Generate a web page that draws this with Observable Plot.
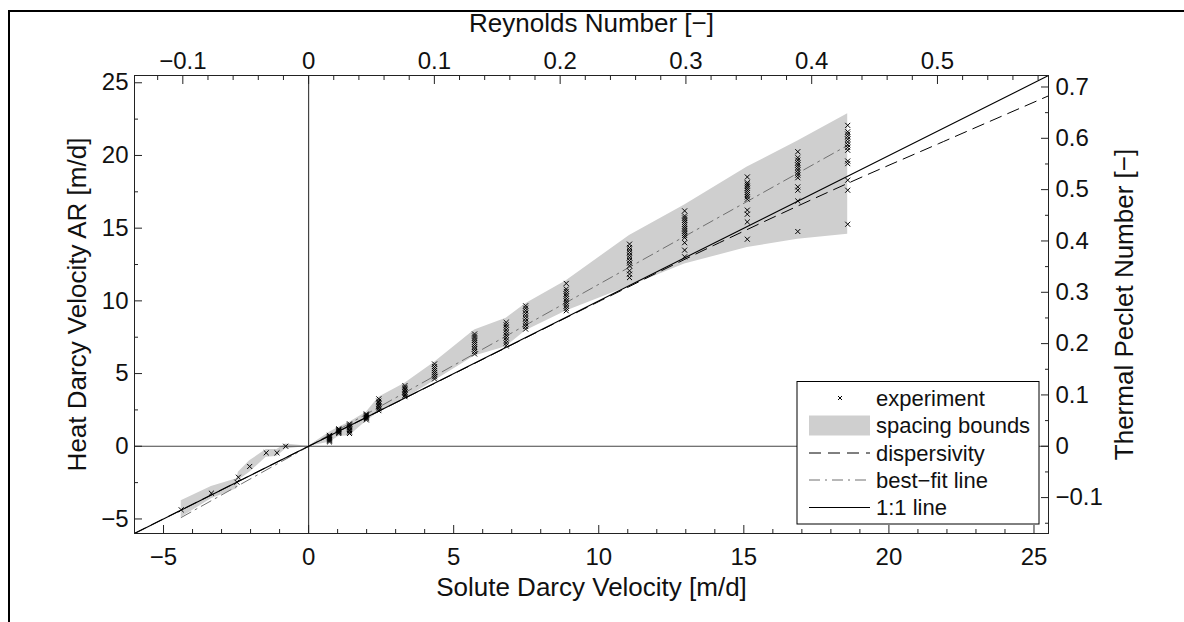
<!DOCTYPE html>
<html><head><meta charset="utf-8">
<script src="https://cdn.jsdelivr.net/npm/d3@7"></script>
<script src="https://cdn.jsdelivr.net/npm/@observablehq/plot@0.6"></script>
<style>
html,body{margin:0;padding:0;background:#fff;overflow:hidden;width:1184px;height:622px;}
#frame{position:absolute;left:8px;top:10px;width:1400px;height:900px;border-left:2.5px solid #000;border-top:2.5px solid #000;box-sizing:border-box;}
#chart{position:absolute;left:0;top:0;}
</style></head><body>
<div id="frame"></div>
<div id="chart"></div>
<script>
// ---------- data ----------
const domainMin = -6, domainMax = 25.5;
// single experiment points (negative flow)
const negX = [-4.39, -3.35, -2.47, -2.42, -2.03, -1.46, -1.09, -0.79];
const negY = [-4.37, -3.23, -2.47, -2.13, -1.39, -0.45, -0.45, 0.0];
// clustered experiment points: x position and the measured heat velocities
const clusterX = [0.72, 1.04, 1.41, 1.99, 2.42, 3.32, 4.34, 5.72, 6.81, 7.48, 8.88, 11.06, 12.96, 15.12, 16.86, 18.58];
const clusterY = [
  [0.3, 0.38, 0.45, 0.52, 0.58, 0.64, 0.7, 0.75],
  [0.88, 0.95, 1.0, 1.05, 1.1, 1.15, 1.2],
  [0.88, 0.98, 1.08, 1.18, 1.28, 1.38, 1.46, 1.54],
  [1.81, 1.9, 1.97, 2.03, 2.1, 2.16, 2.22],
  [2.45, 2.58, 2.7, 2.8, 2.9, 3.0, 3.1, 3.26],
  [3.41, 3.52, 3.63, 3.74, 3.85, 3.95, 4.05, 4.17],
  [4.63, 4.78, 4.92, 5.06, 5.2, 5.34, 5.48, 5.66],
  [6.35, 6.52, 6.68, 6.84, 7.0, 7.15, 7.3, 7.45, 7.58, 7.72],
  [6.92, 7.1, 7.28, 7.46, 7.64, 7.82, 8.0, 8.18, 8.35, 8.52],
  [8.06, 8.24, 8.42, 8.6, 8.78, 8.96, 9.14, 9.32, 9.5, 9.66],
  [9.32, 9.48, 9.65, 9.82, 9.98, 10.15, 10.32, 10.48, 10.65, 10.81, 11.2],
  [11.6, 11.84, 12.07, 12.41, 12.6, 12.78, 12.96, 13.14, 13.32, 13.5, 13.67, 13.9],
  [13.03, 13.49, 14.0, 14.35, 14.5, 14.65, 14.8, 14.95, 15.1, 15.25, 15.4, 15.55, 15.7, 15.84, 16.19],
  [14.24, 15.43, 15.96, 16.24, 16.99, 17.15, 17.3, 17.45, 17.6, 17.75, 17.9, 18.02, 18.13, 18.52],
  [14.77, 16.87, 17.61, 17.84, 18.47, 18.65, 18.82, 19.0, 19.17, 19.34, 19.5, 19.68, 19.85, 20.26],
  [15.27, 17.61, 18.3, 19.44, 19.62, 20.36, 20.55, 20.74, 20.93, 21.12, 21.3, 21.47, 21.63, 22.07]
];
// spacing bounds
const bandX  = [-4.39, -3.35, -2.47, -2.42, -2.03, -1.46, -1.09, -0.79, 0, 0.72, 1.04, 1.41, 1.99, 2.42, 3.32, 4.34, 5.72, 6.81, 7.48, 8.88, 11.06, 12.96, 15.12, 16.86, 18.58];
const bandHi = [-3.75, -2.77, -2.24, -1.79, -1.0, -0.23, -0.23, 0.16, 0, 0.96, 1.3, 1.65, 2.34, 3.37, 4.33, 5.77, 8.0, 8.8, 9.8, 11.38, 14.5, 16.6, 19.2, 21.0, 22.87];
const bandLo = [-4.9, -3.61, -2.93, -2.36, -1.79, -0.75, -0.71, -0.18, 0, 0.27, 0.67, 0.73, 1.72, 2.34, 3.26, 4.51, 6.2, 6.85, 7.95, 9.3, 11.0, 12.53, 13.67, 14.24, 14.59];
// dispersivity curve
const dispX = [-6, 0, 5, 10, 14, 18.6, 21.7, 25.5];
const dispY = [-5.99, 0, 4.98, 9.95, 13.85, 18.1, 20.8, 24.1];
// best-fit line
const fitX = [-4.39, 18.58];
const fitY = [-4.9, 20.7];
// 1:1 line
const oneX = [-6, 25.5];
const oneY = [-6, 25.5];
// axis ticks
const xMajor = [-5, 0, 5, 10, 15, 20, 25];
const yMajor = [-5, 0, 5, 10, 15, 20, 25];
const reMajor = [-0.1, 0, 0.1, 0.2, 0.3, 0.4, 0.5];
const peMajor = [-0.1, 0, 0.1, 0.2, 0.3, 0.4, 0.5, 0.6, 0.7];
const reFactor = 0.02307;   // Reynolds number per m/d
const peFactor = 1 / 35.3;  // Peclet number per m/d
const legendLabels = ["experiment", "spacing bounds", "dispersivity", "best\u2212fit line", "1:1 line"];

// ---------- build tables ----------
const points = negX.map((x, i) => ({x, y: negY[i]}));
clusterX.forEach((x, i) => clusterY[i].forEach(y => points.push({x, y})));
const band = bandX.map((x, i) => ({x, lo: bandLo[i], hi: bandHi[i]}));
const disp = dispX.map((x, i) => ({x, y: dispY[i]}));
const fit = fitX.map((x, i) => ({x, y: fitY[i]}));
const one = oneX.map((x, i) => ({x, y: oneY[i]}));

const xMinor = d3.range(-5, 26, 1).filter(v => !xMajor.includes(v));
const yMinor = d3.range(-5, 26, 2.5).filter(v => !yMajor.includes(v));
const reMinor = d3.range(-12, 59, 2).map(v => v / 100).filter(v => Math.abs(Math.round(v * 100) % 10) !== 0);
const peMinor = d3.range(-15, 70, 10).map(v => v / 100);

const fmt1 = d3.format(".1~f");
const FONT = "'Liberation Sans', Arial, Helvetica, sans-serif";
const axisColor = "#222";

const chart = Plot.plot({
  width: 1184, height: 622,
  marginLeft: 134, marginRight: 136, marginTop: 75, marginBottom: 89,
  x: {domain: [domainMin, domainMax], label: null},
  y: {domain: [domainMin, domainMax], label: null},
  style: {fontFamily: FONT, fontSize: "24px", color: "#111", background: "transparent", overflow: "visible"},
  marks: [
    Plot.areaY(band, {x: "x", y1: "lo", y2: "hi", fill: "#cfcfcf"}),
    Plot.ruleX([0], {stroke: "#444", strokeWidth: 1.2}),
    Plot.ruleY([0], {stroke: "#444", strokeWidth: 1.2}),
    Plot.line(disp, {x: "x", y: "y", stroke: "#000", strokeWidth: 1, strokeDasharray: "12,7", curve: "monotone-x"}),
    Plot.line(fit, {x: "x", y: "y", stroke: "#707070", strokeWidth: 1, strokeDasharray: "11,5,2,5"}),
    Plot.line(one, {x: "x", y: "y", stroke: "#000", strokeWidth: 1.1}),
    Plot.dot(points, {x: "x", y: "y", symbol: "times", r: 2.4, stroke: "#000", strokeWidth: 1}),
    Plot.frame({stroke: axisColor, strokeWidth: 1}),
    // bottom axis
    Plot.axisX(xMajor, {anchor: "bottom", tickSize: -8, tickPadding: 22, fontSize: 24, label: null, tickFormat: d3.format("d"), stroke: axisColor}),
    Plot.axisX(xMinor, {anchor: "bottom", tickSize: -4, tickFormat: () => "", label: null, stroke: axisColor}),
    // top axis (Reynolds)
    Plot.axisX(reMajor.map(r => r / reFactor), {anchor: "top", tickSize: -8, tickPadding: 15, fontSize: 24, label: null, tickFormat: d => fmt1(d * reFactor), stroke: axisColor}),
    Plot.axisX(reMinor.map(r => r / reFactor), {anchor: "top", tickSize: -4, tickFormat: () => "", label: null, stroke: axisColor}),
    // left axis
    Plot.axisY(yMajor, {anchor: "left", tickSize: -8, tickPadding: 14, fontSize: 24, label: null, tickFormat: d3.format("d"), stroke: axisColor}),
    Plot.axisY(yMinor, {anchor: "left", tickSize: -4, tickFormat: () => "", label: null, stroke: axisColor}),
    // right axis (Peclet)
    Plot.axisY(peMajor.map(p => p / peFactor), {anchor: "right", tickSize: -8, tickPadding: 15, fontSize: 24, label: null, tickFormat: d => fmt1(d * peFactor), stroke: axisColor}),
    Plot.axisY(peMinor.map(p => p / peFactor), {anchor: "right", tickSize: -4, tickFormat: () => "", label: null, stroke: axisColor}),
    // axis titles
    Plot.text(["Solute Darcy Velocity [m/d]"], {text: d => d, frameAnchor: "bottom", dy: 54, fontSize: 26, lineAnchor: "middle", textAnchor: "middle"}),
    Plot.text(["Reynolds Number [\u2212]"], {text: d => d, frameAnchor: "top", dy: -52, fontSize: 26, lineAnchor: "middle", textAnchor: "middle"}),
    Plot.text(["Heat Darcy Velocity AR [m/d]"], {text: d => d, frameAnchor: "left", dx: -57, rotate: -90, fontSize: 26, lineAnchor: "middle", textAnchor: "middle"}),
    Plot.text(["Thermal Peclet Number [\u2212]"], {text: d => d, frameAnchor: "right", dx: 76, rotate: -90, fontSize: 26, lineAnchor: "middle", textAnchor: "middle"})
  ]
});
document.getElementById("chart").appendChild(chart);

// ---------- legend ----------
const svg = d3.select(chart);
const lg = svg.append("g").attr("font-family", FONT).attr("font-size", 22).attr("fill", "#111").attr("text-anchor", "start");
lg.append("rect").attr("x", 797).attr("y", 381.5).attr("width", 242).attr("height", 142.5)
  .attr("fill", "#fff").attr("stroke", "#000").attr("stroke-width", 1);
const rowY = [398, 425.5, 453, 480, 507.5];
const sx0 = 809, sx1 = 870, tx = 876;
// experiment marker
lg.append("path").attr("d", `M${840-2},${rowY[0]-2}L${840+2},${rowY[0]+2}M${840-2},${rowY[0]+2}L${840+2},${rowY[0]-2}`)
  .attr("stroke", "#000").attr("stroke-width", 1).attr("fill", "none");
// spacing bounds swatch
lg.append("rect").attr("x", sx0).attr("y", rowY[1] - 10).attr("width", sx1 - sx0).attr("height", 20).attr("fill", "#cfcfcf");
// dispersivity
lg.append("line").attr("x1", sx0).attr("x2", sx1).attr("y1", rowY[2]).attr("y2", rowY[2])
  .attr("stroke", "#000").attr("stroke-dasharray", "12,7");
// best-fit
lg.append("line").attr("x1", sx0).attr("x2", sx1).attr("y1", rowY[3]).attr("y2", rowY[3])
  .attr("stroke", "#707070").attr("stroke-dasharray", "11,5,2,5");
// 1:1
lg.append("line").attr("x1", sx0).attr("x2", sx1).attr("y1", rowY[4]).attr("y2", rowY[4]).attr("stroke", "#000");
legendLabels.forEach((t, i) => {
  lg.append("text").attr("x", tx).attr("y", rowY[i]).attr("dy", "0.35em").attr("text-anchor", "start").text(t);
});
</script>
</body></html>
